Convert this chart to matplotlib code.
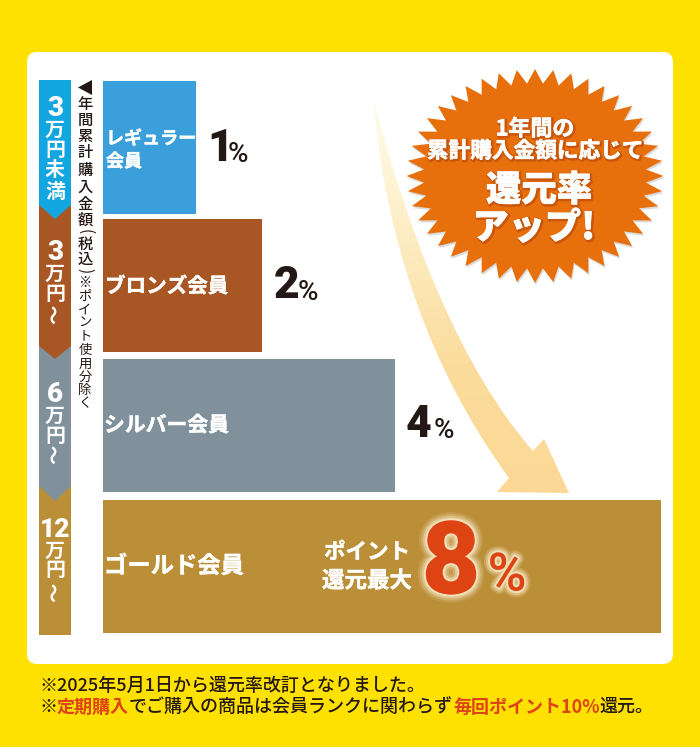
import numpy as np
import matplotlib
matplotlib.use("Agg")
import matplotlib.pyplot as plt
import matplotlib.patheffects as pe
from matplotlib.colors import LinearSegmentedColormap
from matplotlib.patches import FancyBboxPatch, Polygon, PathPatch
from matplotlib.path import Path

plt.rcParams["font.family"] = ["Noto Sans CJK JP", "DejaVu Sans"]

# chart data
rank_names = ["レギュラー\n会員", "ブロンズ会員", "シルバー会員", "ゴールド会員"]
rates = [1, 2, 4, 8]
rank_colors = ["#3a9fdb", "#a85623", "#80919c", "#bb8e38"]
spend_labels = [["3", "万", "円", "未", "満"], ["3", "万", "円", "～"], ["6", "万", "円", "～"], ["12", "万", "円", "～"]]
band_colors = ["#12a5e0", "#a85623", "#80919c", "#bb8e38"]

YELLOW = "#ffe100"
ORANGE = "#e8700c"
RED = "#de4314"
DARK = "#231815"

# slight extra weight for the heavy gothic labels
heavy = [pe.withStroke(linewidth=0.3, foreground="white")]

fig = plt.figure(figsize=(7, 7.47), dpi=100, facecolor=YELLOW)

# pixel coordinate layer
ax = fig.add_axes([0, 0, 1, 1])
ax.set_xlim(0, 700)
ax.set_ylim(747, 0)
ax.axis("off")

panel = FancyBboxPatch((37, 62), 626, 592, boxstyle="round,pad=10,rounding_size=10",
                       fc="white", ec="none", zorder=1)
ax.add_patch(panel)

# left spend bands with chevron bottoms
band_tops = [80, 205, 346, 486]
band_sides = [205, 346, 486, 635]
band_tips = [219, 359, 501, 635]
band_left, band_right = 39, 71
band_mid = (band_left + band_right) / 2
for i in [3, 2, 1, 0]:
    pts = [(band_left, band_tops[i]), (band_right, band_tops[i]), (band_right, band_sides[i]),
           (band_mid, band_tips[i]), (band_left, band_sides[i])]
    ax.add_patch(Polygon(pts, fc=band_colors[i], ec="none", zorder=2 + (3 - i) * 0.1))

label_ys = [[108, 129, 150, 170, 192], [253, 273, 294, 314], [395, 415, 435, 454], [530, 550, 570, 592]]
for chars, ys in zip(spend_labels, label_ys):
    for ch, y in zip(chars, ys):
        if ch == "～":
            ax.text(band_mid, y, ch, color="white", fontsize=14, fontweight="bold",
                    ha="center", va="center", rotation=90, zorder=4)
        elif ch.isdigit():
            ax.text(band_mid, y, ch, color="white", fontsize=20 if len(ch) == 1 else 19, fontweight="black",
                    ha="center", va="center", zorder=4, family=["Roboto"])
        else:
            ax.text(band_mid, y, ch, color="white", fontsize=14.3, fontweight="bold",
                    ha="center", va="center", zorder=4)

# vertical caption
ax.add_patch(Polygon([(78, 87.5), (92, 80), (92, 95)], fc=DARK, ec="none", zorder=3))
for ch, y in zip("年間累計購入金額", [104, 120, 136, 153, 170, 187, 204, 220]):
    ax.text(85, y, ch, color=DARK, fontsize=11, fontweight="medium", ha="center", va="center", zorder=3)
ax.text(85, 232, "(", color=DARK, fontsize=11, ha="center", va="center", rotation=-90, zorder=3)
for ch, y in zip("税込", [244, 259]):
    ax.text(85, y, ch, color=DARK, fontsize=11, fontweight="medium", ha="center", va="center", zorder=3)
ax.text(85, 271, ")", color=DARK, fontsize=11, ha="center", va="center", rotation=-90, zorder=3)
for i, ch in enumerate("※ポイント使用分除く"):
    ax.text(85, 283 + i * 13.4, ch, color=DARK, fontsize=9.6, ha="center", va="center", zorder=3)

# gradient arrow, drawn under the bars
arrow_verts = [(373, 97), (385, 240), (430, 370), (509, 478), (497, 492), (569, 493),
               (544, 439), (533, 451), (462, 370), (410, 240), (373, 97)]
arrow_codes = [Path.MOVETO, Path.CURVE4, Path.CURVE4, Path.CURVE4, Path.LINETO, Path.LINETO,
               Path.LINETO, Path.LINETO, Path.CURVE4, Path.CURVE4, Path.CURVE4]
arrow_patch = PathPatch(Path(arrow_verts, arrow_codes), fc="none", ec="none", zorder=2)
ax.add_patch(arrow_patch)
grad = np.linspace(0, 1, 256)[:, None]
cmap = LinearSegmentedColormap.from_list("arrow", ["#fffdf2", "#fdeec6", "#fbdc9c", "#fbd894"])
img = ax.imshow(grad, extent=(360, 580, 500, 90), aspect="auto", cmap=cmap, zorder=2, interpolation="bilinear")
img.set_clip_path(arrow_patch)
ax.set_xlim(0, 700)
ax.set_ylim(747, 0)

# bars on a percent scale
row_tops = [81, 219, 359, 500]
row_h = 133
for i, rate in enumerate(rates):
    bar_ax = fig.add_axes([102.5 / 700, 1 - (row_tops[i] + row_h) / 747, 558.5 / 700, row_h / 747])
    bar_ax.set_xlim(-0.4, 8)
    bar_ax.set_ylim(0, 1)
    bar_ax.axis("off")
    bar_ax.patch.set_alpha(0)
    bar_ax.set_zorder(2)
    bar_ax.barh([0.5], [rate + 0.4], height=1, left=-0.4, color=rank_colors[i])

# top layer for text over the bars
top = fig.add_axes([0, 0, 1, 1])
top.set_xlim(0, 700)
top.set_ylim(747, 0)
top.axis("off")
top.patch.set_alpha(0)
top.set_zorder(5)

name_xy = [(106, 150), (105, 286), (104, 425), (104, 566)]
name_sizes = [13, 14.8, 15, 16.8]
for i, name in enumerate(rank_names):
    top.text(name_xy[i][0], name_xy[i][1], name, color="white", fontsize=name_sizes[i], fontweight="bold",
             va="center", ha="left", linespacing=1.25, path_effects=heavy)

rate_xy = [(207, 149), (274, 286), (406, 425)]
pct_gap = [21, 24, 28]
for i, rate in enumerate(rates[:3]):
    top.text(rate_xy[i][0], rate_xy[i][1], str(rate), color=DARK, fontsize=32, fontweight="black",
             family=["Roboto"], va="center", ha="left")
    top.text(rate_xy[i][0] + pct_gap[i], rate_xy[i][1] + 6, "%", color=DARK, fontsize=20, fontweight="medium",
             family=["Roboto"], va="center", ha="left")

# gold row callout
top.text(367, 552, "ポイント", color="white", fontsize=15.5, fontweight="bold", ha="center", va="center", path_effects=heavy)
top.text(367, 581, "還元最大", color="white", fontsize=16.2, fontweight="bold", ha="center", va="center", path_effects=heavy)
glow = [pe.withStroke(linewidth=lw, foreground="#fff4d8", alpha=a) for lw, a in [(12, 0.12), (9, 0.2), (6, 0.35), (3, 0.6)]]
top.text(451, 556, str(rates[3]), color=RED, fontsize=73, fontweight="black", family=["Roboto"],
         ha="center", va="center_baseline", path_effects=glow)
top.text(507, 576, "%", color=RED, fontsize=38, fontweight="medium", family=["Roboto"],
         ha="center", va="center", path_effects=glow[1:])

# starburst
n_spikes = 44
theta = np.linspace(0, 2 * np.pi, n_spikes * 2, endpoint=False)
radii = np.where(np.arange(n_spikes * 2) % 2 == 0, 1.0, 0.865)
bx = 535 + 128.5 * radii * np.cos(theta)
by = 176 + 107 * radii * np.sin(theta)
top.add_patch(Polygon(np.c_[bx + 1, by + 2], fc="#9a9a9a", ec="none", alpha=0.35, zorder=1))
top.add_patch(Polygon(np.c_[bx, by], fc=ORANGE, ec="none", zorder=2))
soft = [pe.Stroke(linewidth=2.5, foreground="#c9560a", offset=(0.8, -0.8)), pe.withStroke(linewidth=0.5, foreground="white")]
top.text(535, 129, "1年間の", color="white", fontsize=15.8, fontweight="bold", ha="center", va="center",
         path_effects=soft, zorder=3)
top.text(535, 151, "累計購入金額に応じて", color="white", fontsize=15.6, fontweight="bold", ha="center", va="center",
         path_effects=soft, zorder=3)
top.text(539, 190, "還元率", color="white", fontsize=25.5, fontweight="black", ha="center", va="center",
         path_effects=soft, zorder=3)
top.text(534, 228, "アップ!", color="white", fontsize=26, fontweight="black", ha="center", va="center",
         path_effects=soft, zorder=3)


# footer notes, one run per colour
def runs(x, y, parts):
    r = fig.canvas.get_renderer()
    for s, c, w in parts:
        t = top.text(x, y, s, color=c, fontsize=13, fontweight=w, ha="left", va="center",
                     family=["Noto Sans CJK JP"])
        x += t.get_window_extent(r).width


runs(39, 686, [("※2025年5月1日から還元率改訂となりました。", DARK, "medium")])
runs(39, 707, [("※", DARK, "medium"), ("定期購入", RED, "bold"), ("でご購入の商品は会員ランクに関わらず", DARK, "medium"),
               ("毎回ポイント10%", RED, "bold"), ("還元。", DARK, "medium")])

fig.savefig("out.png", dpi=100, facecolor=YELLOW)
